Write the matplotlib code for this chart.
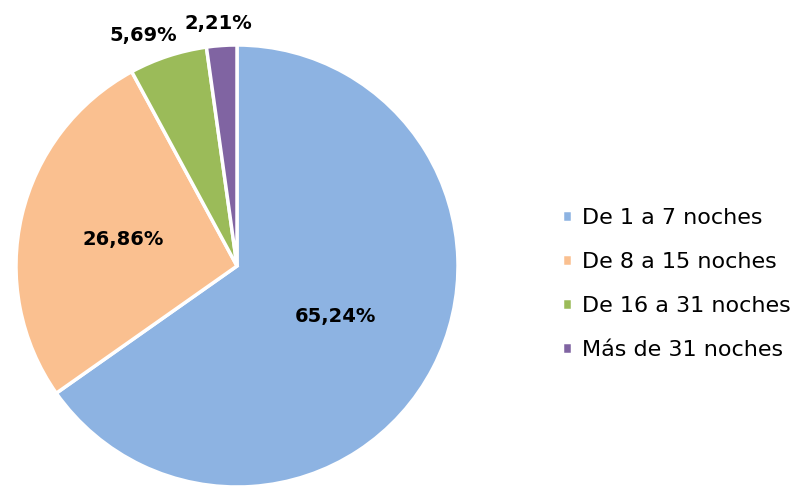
import matplotlib.pyplot as plt
import numpy as np

categories = ['De 1 a 7 noches', 'De 8 a 15 noches', 'De 16 a 31 noches', 'Más de 31 noches']
values = [65.24, 26.86, 5.69, 2.21]
labels = ['65,24%', '26,86%', '5,69%', '2,21%']
colors = ['#8DB3E2', '#FAC090', '#9BBB59', '#8064A2']
label_dist = [0.5, 0.53, 1.1, 1.1]
label_dx = [0, 0, -18, -2]

fig = plt.figure(figsize=(7.96, 4.86), dpi=100)
ax = fig.add_axes([0, 0, 1, 1])
ax.axis('off')

cx, cy, r = 237, 486 - 266, 221
wedges, _ = ax.pie(values, colors=colors, startangle=90, counterclock=False,
                   center=(cx, cy), radius=r,
                   wedgeprops=dict(edgecolor='white', linewidth=2.5))
ax.set_xlim(0, 796)
ax.set_ylim(0, 486)
ax.set_aspect('equal')

for w, lab, d, dx in zip(wedges, labels, label_dist, label_dx):
    ang = np.deg2rad((w.theta1 + w.theta2) / 2)
    x = cx + d * r * np.cos(ang) + dx
    y = cy + d * r * np.sin(ang)
    ax.text(x, y, lab, ha='center', va='center', fontsize=14,
            fontweight='bold', family='DejaVu Sans', color='black')

ax.legend(wedges, categories, loc='center left', bbox_to_anchor=(542 / 796, 1 - 284 / 486),
          frameon=False, handlelength=0.45, handleheight=0.45,
          handletextpad=0.45, labelspacing=1.07, prop={'family': 'DejaVu Sans', 'size': 16})

fig.savefig('out.png', dpi=100, facecolor='white')
